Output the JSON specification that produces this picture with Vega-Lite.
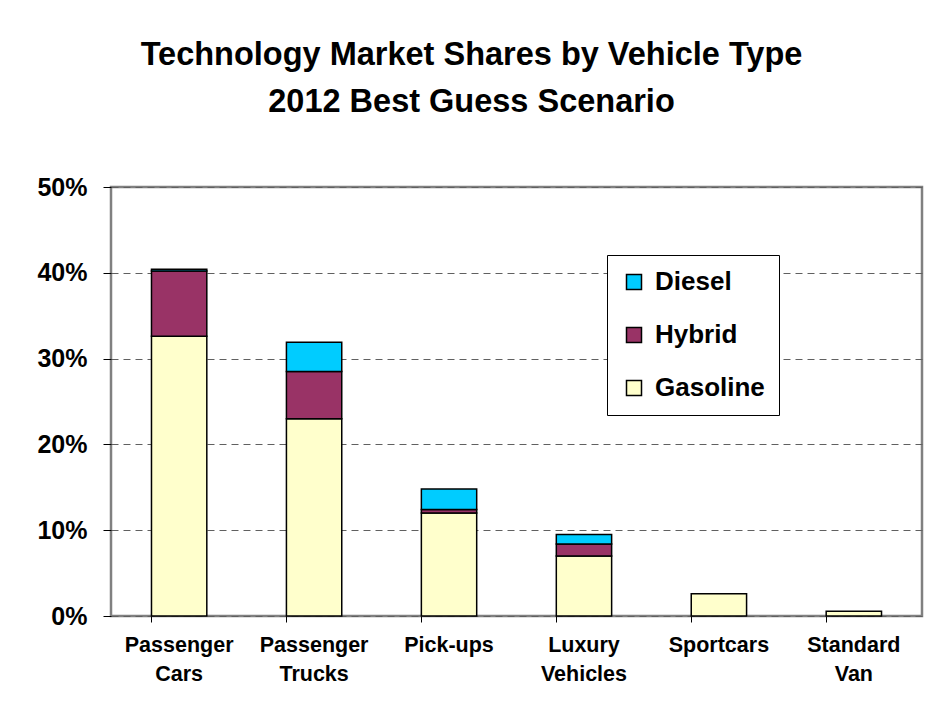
{
  "$schema": "https://vega.github.io/schema/vega-lite/v6.json",
  "width": 811,
  "height": 429,
  "autosize": {"type": "none"},
  "padding": {"left": 111, "top": 187, "right": 20, "bottom": 95},
  "background": "white",
  "title": {
    "text": ["Technology Market Shares by Vehicle Type", "2012 Best Guess Scenario"],
    "font": "Liberation Sans",
    "fontSize": 32.5,
    "fontWeight": "bold",
    "color": "black",
    "anchor": "middle",
    "frame": "group",
    "dx": -45,
    "baseline": "bottom",
    "lineHeight": 47,
    "offset": 24
  },
  "data": {
    "values": [
      {"vehicle": "Passenger Cars", "tech": "Gasoline", "rank": 1, "share": 0.326},
      {"vehicle": "Passenger Cars", "tech": "Hybrid", "rank": 2, "share": 0.076},
      {"vehicle": "Passenger Cars", "tech": "Diesel", "rank": 3, "share": 0.002},
      {"vehicle": "Passenger Trucks", "tech": "Gasoline", "rank": 1, "share": 0.230},
      {"vehicle": "Passenger Trucks", "tech": "Hybrid", "rank": 2, "share": 0.055},
      {"vehicle": "Passenger Trucks", "tech": "Diesel", "rank": 3, "share": 0.034},
      {"vehicle": "Pick-ups", "tech": "Gasoline", "rank": 1, "share": 0.120},
      {"vehicle": "Pick-ups", "tech": "Hybrid", "rank": 2, "share": 0.004},
      {"vehicle": "Pick-ups", "tech": "Diesel", "rank": 3, "share": 0.024},
      {"vehicle": "Luxury Vehicles", "tech": "Gasoline", "rank": 1, "share": 0.070},
      {"vehicle": "Luxury Vehicles", "tech": "Hybrid", "rank": 2, "share": 0.014},
      {"vehicle": "Luxury Vehicles", "tech": "Diesel", "rank": 3, "share": 0.011},
      {"vehicle": "Sportcars", "tech": "Gasoline", "rank": 1, "share": 0.026},
      {"vehicle": "Standard Van", "tech": "Gasoline", "rank": 1, "share": 0.0055}
    ]
  },
  "mark": {"type": "bar", "stroke": "black", "strokeWidth": 1.5},
  "encoding": {
    "x": {
      "field": "vehicle",
      "type": "nominal",
      "sort": null,
      "scale": {"paddingInner": 0.59, "paddingOuter": 0.3},
      "axis": {
        "title": null,
        "labelAngle": 0,
        "labelExpr": "split(datum.label, ' ')",
        "labelFont": "Liberation Sans",
        "labelFontSize": 21.5,
        "labelFontWeight": "bold",
        "labelColor": "black",
        "labelLineHeight": 29,
        "labelPadding": 12,
        "labelBaseline": "top",
        "bandPosition": 0,
        "tickColor": "black",
        "tickSize": 6,
        "domain": false,
        "grid": false
      }
    },
    "y": {
      "field": "share",
      "type": "quantitative",
      "aggregate": "sum",
      "stack": "zero",
      "scale": {"domain": [0, 0.5], "nice": false},
      "axis": {
        "title": null,
        "format": ".0%",
        "values": [0, 0.1, 0.2, 0.3, 0.4, 0.5],
        "labelFont": "Liberation Sans",
        "labelFontSize": 25,
        "labelFontWeight": "bold",
        "labelColor": "black",
        "labelPadding": 16,
        "tickColor": "black",
        "tickSize": 8,
        "domain": false,
        "grid": true,
        "gridColor": "#606060",
        "gridDash": [7, 5],
        "gridWidth": 1
      }
    },
    "order": {"field": "rank", "type": "quantitative", "sort": "ascending"},
    "color": {
      "field": "tech",
      "type": "nominal",
      "scale": {
        "domain": ["Gasoline", "Hybrid", "Diesel"],
        "range": ["#FFFFCC", "#993366", "#00CCFF"]
      },
      "legend": {
        "title": null,
        "values": ["Diesel", "Hybrid", "Gasoline"],
        "orient": "none",
        "legendX": 496,
        "legendY": 68,
        "strokeColor": "black",
        "fillColor": "white",
        "padding": 14,
        "rowPadding": 27,
        "symbolType": "square",
        "symbolSize": 225,
        "symbolStrokeColor": "black",
        "symbolStrokeWidth": 1.5,
        "symbolOpacity": 1,
        "labelFont": "Liberation Sans",
        "labelFontSize": 26,
        "labelFontWeight": "bold",
        "labelColor": "black",
        "labelOffset": 8
      }
    }
  },
  "config": {
    "view": {"stroke": "#808080", "strokeWidth": 2.5}
  }
}
